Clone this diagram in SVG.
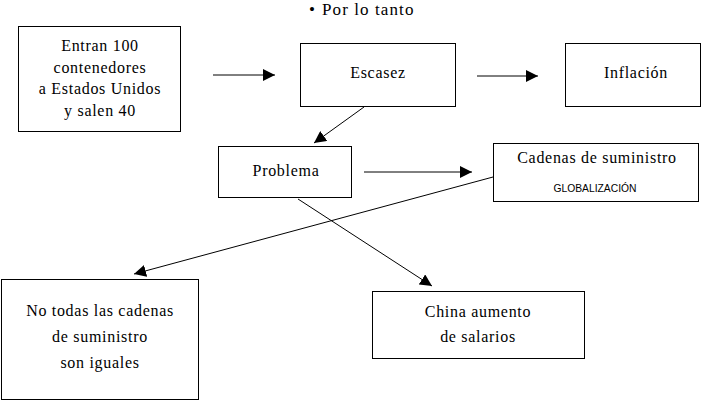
<svg xmlns="http://www.w3.org/2000/svg" width="703" height="400" viewBox="0 0 703 400">
<style>
.box{fill:#fff;stroke:#000;stroke-width:1}
.t{font-family:"Liberation Serif",serif;font-size:16px;letter-spacing:0.7px;fill:#000;text-anchor:middle}
.s{font-family:"Liberation Sans",Arial,sans-serif;font-size:11.5px;fill:#000;text-anchor:middle}
.c{stroke:#000;stroke-width:1;fill:none;marker-end:url(#ah)}
</style>
<defs>
<marker id="ah" markerUnits="userSpaceOnUse" markerWidth="12" markerHeight="12" refX="12" refY="6" orient="auto" viewBox="0 0 12 12">
<path d="M0,0 L12,6 L0,12 z" fill="#000"/>
</marker>
</defs>
<rect width="703" height="400" fill="#fff"/>
<text class="t" style="text-anchor:start;font-size:17px;letter-spacing:1.1px" y="15"><tspan x="309">•</tspan><tspan x="322">Por lo tanto</tspan></text>
<g id="connectors">
<line class="c" x1="213" y1="75" x2="275" y2="75"/>
<line class="c" x1="477" y1="76" x2="538" y2="76"/>
<line class="c" x1="364" y1="107" x2="314" y2="143"/>
<line class="c" x1="364" y1="172" x2="472" y2="172"/>
<line class="c" x1="493" y1="177" x2="134" y2="274"/>
<line class="c" x1="298" y1="199" x2="432" y2="286"/>
</g>
<g id="n1">
<rect class="box" x="18.5" y="26.5" width="162" height="105"/>
<text class="t" x="100" y="51">Entran 100</text>
<text class="t" x="100" y="72.5">contenedores</text>
<text class="t" x="100" y="94">a Estados Unidos</text>
<text class="t" x="100" y="115.5">y salen 40</text>
</g>
<g id="n2">
<rect class="box" x="300.5" y="43.5" width="155" height="63"/>
<text class="t" x="378" y="78">Escasez</text>
</g>
<g id="n3">
<rect class="box" x="565.5" y="43.5" width="135" height="63"/>
<text class="t" x="636" y="78">Inflación</text>
</g>
<g id="n4">
<rect class="box" x="218.5" y="146.5" width="133" height="51"/>
<text class="t" x="286" y="176">Problema</text>
</g>
<g id="n5">
<rect class="box" x="493.5" y="143.5" width="205" height="58"/>
<text class="t" x="597" y="163">Cadenas de suministro</text>
<text class="s" x="595" y="192" textLength="83" lengthAdjust="spacingAndGlyphs">GLOBALIZACIÓN</text>
</g>
<g id="n6">
<rect class="box" x="1.5" y="279.5" width="197" height="120"/>
<text class="t" x="100" y="316">No todas las cadenas</text>
<text class="t" x="100" y="342">de suministro</text>
<text class="t" x="100" y="368">son iguales</text>
</g>
<g id="n7">
<rect class="box" x="372.5" y="291.5" width="212" height="67"/>
<text class="t" x="478" y="317">China aumento</text>
<text class="t" x="478" y="342">de salarios</text>
</g>
</svg>
